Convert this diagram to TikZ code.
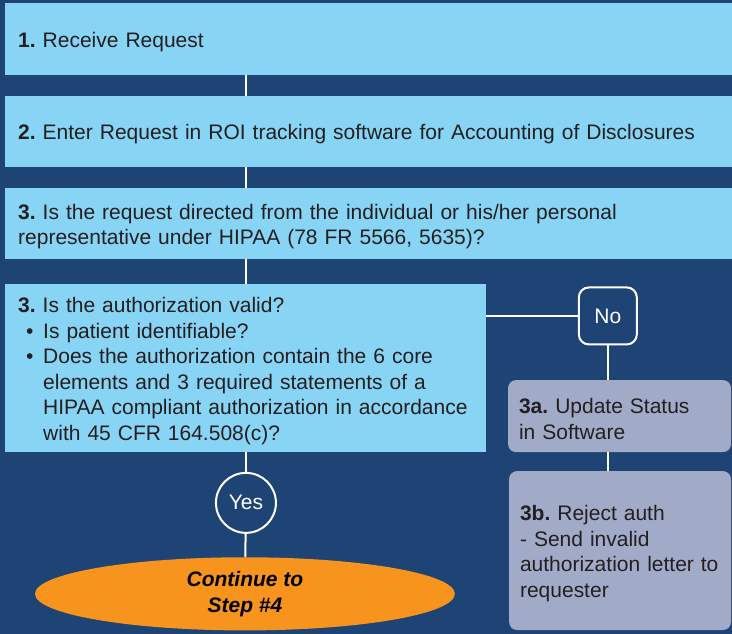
\documentclass[tikz,border=0pt]{standalone}
\usepackage{fontspec}
\setmainfont{Liberation Sans}
\usetikzlibrary{shapes.geometric}
\definecolor{navy}{RGB}{29,68,117}
\definecolor{skyblue}{RGB}{135,212,244}
\definecolor{slate}{RGB}{161,171,200}
\definecolor{amber}{RGB}{247,148,29}
\definecolor{ink}{RGB}{35,31,32}
\newcommand{\flowfont}{\fontsize{21}{25.5}\selectfont\frenchspacing}
\begin{document}
\begin{tikzpicture}[x=1pt, y=-1pt,
  stepbox/.style={fill=skyblue, text=ink, anchor=north west, inner xsep=13pt, inner ysep=0pt, align=left, font=\flowfont, execute at begin node={\rule{0pt}{21pt}}},
  sidebox/.style={fill=slate, text=ink, rounded corners=8pt, anchor=north west, inner xsep=11pt, inner ysep=0pt, align=left, font=\flowfont, execute at begin node={\rule{0pt}{21pt}}},
  answer/.style={draw=white, line width=2pt, fill=navy, text=white, inner sep=0pt, font=\flowfont},
  link/.style={draw=white, line width=2pt}]
\fill[navy] (0,0) rectangle (732,634);
\node[stepbox, text width=701pt, minimum height=72pt] (s1) at (5,3) {\textbf{1.} Receive Request};
\node[stepbox, text width=701pt, minimum height=71pt] (s2) at (5,96) {\textbf{2.} Enter Request in ROI tracking software for Accounting of Disclosures};
\node[stepbox, text width=701pt, minimum height=71pt] (s3) at (5,188) {\textbf{3.} Is the request directed from the individual or his/her personal\\representative under HIPAA (78 FR 5566, 5635)?};
\node[stepbox, text width=455pt, minimum height=168pt] (s4) at (5,284) {\textbf{3.} Is the authorization valid?\\
\hspace*{8pt}\makebox[17pt][l]{\textbullet}Is patient identifiable?\\
\hspace*{8pt}\makebox[17pt][l]{\textbullet}Does the authorization contain the 6 core\\
\hspace*{25pt}elements and 3 required statements of a\\
\hspace*{25pt}HIPAA compliant authorization in accordance\\
\hspace*{25pt}with 45 CFR 164.508(c)?};
\node[sidebox, text width=201pt, minimum height=72pt] (s3a) at (508,380) {\textbf{3a.} Update Status\\in Software};
\node[sidebox, text width=200pt, minimum height=159pt] (s3b) at (509,471) {\textbf{3b.} Reject auth\\- Send invalid\\authorization letter to\\requester};
\node[answer, circle, minimum size=60pt] (yes) at (246,503) {Yes};
\node[answer, rectangle, rounded corners=10pt, minimum width=58pt, minimum height=57pt] (no) at (608,316) {No};
\node[ellipse, fill=amber, text=black, minimum width=420pt, minimum height=72pt, align=center, font=\flowfont\bfseries\itshape] (cont) at (245,594) {Continue to\\Step \#4};
\draw[link] (s1.south -| yes) -- (s2.north -| yes);
\draw[link] (s2.south -| yes) -- (s3.north -| yes);
\draw[link] (s3.south -| yes) -- (s4.north -| yes);
\draw[link] (s4.south -| yes) -- (yes);
\draw[link] (yes) -- (cont);
\draw[link] (s4.east |- no) -- (no);
\draw[link] (no) -- (no |- s3a.north);
\draw[link] (s3a.south -| no) -- (s3b.north -| no);
\end{tikzpicture}
\end{document}
